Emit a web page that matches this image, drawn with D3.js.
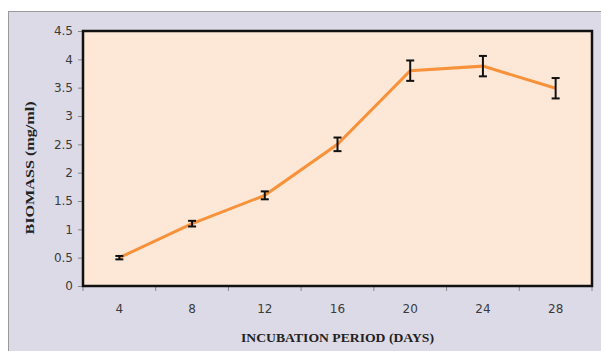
<!DOCTYPE html>
<html>
<head>
<meta charset="utf-8">
<script src="https://cdn.jsdelivr.net/npm/d3@7"></script>
<style>
  body { margin: 0; background: #fff; }
  svg { display: block; }
</style>
</head>
<body>
<div id="chart"></div>
<script>
const days = ["4", "8", "12", "16", "20", "24", "28"];
const biomass = [0.5, 1.1, 1.6, 2.5, 3.8, 3.88, 3.49];
const errors = [0.03, 0.05, 0.07, 0.12, 0.18, 0.18, 0.18];
const yTicks = [0, 0.5, 1, 1.5, 2, 2.5, 3, 3.5, 4, 4.5];

const width = 601, height = 351;
const margin = { top: 31, right: 9, bottom: 65, left: 83 };
const innerW = width - margin.left - margin.right;
const innerH = height - margin.top - margin.bottom;

const svg = d3.select("#chart").append("svg")
  .attr("width", width)
  .attr("height", height);

// outer chart area
svg.append("rect")
  .attr("x", 8.5).attr("y", 11.5)
  .attr("width", width).attr("height", height)
  .attr("fill", "#dddae7")
  .attr("stroke", "#9a9a9a");

const g = svg.append("g")
  .attr("transform", `translate(${margin.left},${margin.top})`);

const x = d3.scaleBand().domain(days).range([0, innerW]).padding(0);
const y = d3.scaleLinear().domain([0, 4.5]).range([innerH, 0]);

g.append("rect")
  .attr("width", innerW).attr("height", innerH)
  .attr("fill", "#fde7d6");

const tickFont = a => a.selectAll("text")
  .attr("fill", "#3a3a3a")
  .style("font-family", "'DejaVu Sans', Verdana, sans-serif")
  .style("font-size", "12px");

// y axis
g.append("g")
  .call(d3.axisLeft(y).tickValues(yTicks).tickSize(5).tickPadding(5).tickFormat(d3.format("")))
  .call(a => a.select(".domain").remove())
  .call(a => a.selectAll(".tick line").attr("stroke", "#888"))
  .call(tickFont);

// x axis: labels centred in bands, ticks at band edges
g.append("g")
  .attr("transform", `translate(0,${innerH})`)
  .call(d3.axisBottom(x).tickSize(0).tickPadding(18))
  .call(a => a.select(".domain").remove())
  .call(tickFont);

const edges = days.map(d => x(d)).concat([innerW]);
g.append("g").selectAll("line")
  .data(edges)
  .join("line")
  .attr("x1", d => d).attr("x2", d => d)
  .attr("y1", innerH).attr("y2", innerH + 5)
  .attr("stroke", "#888");

// plot frame
g.append("rect")
  .attr("width", innerW).attr("height", innerH)
  .attr("fill", "none")
  .attr("stroke", "#111")
  .attr("stroke-width", 2.5);

const pts = days.map((d, i) => ({ day: d, v: biomass[i], e: errors[i] }));
const cx = d => x(d.day) + x.bandwidth() / 2;

g.append("path")
  .datum(pts)
  .attr("fill", "none")
  .attr("stroke", "#f7923a")
  .attr("stroke-width", 3)
  .attr("d", d3.line().x(cx).y(d => y(d.v)));

const eb = g.append("g").attr("stroke", "#111").attr("stroke-width", 2);
eb.selectAll("line.v").data(pts).join("line").attr("class", "v")
  .attr("x1", cx).attr("x2", cx)
  .attr("y1", d => y(d.v + d.e)).attr("y2", d => y(d.v - d.e));
eb.selectAll("line.t").data(pts).join("line").attr("class", "t")
  .attr("x1", d => cx(d) - 4).attr("x2", d => cx(d) + 4)
  .attr("y1", d => y(d.v + d.e)).attr("y2", d => y(d.v + d.e));
eb.selectAll("line.b").data(pts).join("line").attr("class", "b")
  .attr("x1", d => cx(d) - 4).attr("x2", d => cx(d) + 4)
  .attr("y1", d => y(d.v - d.e)).attr("y2", d => y(d.v - d.e));

// axis titles
svg.append("text")
  .attr("x", margin.left + innerW / 2)
  .attr("y", 342)
  .attr("text-anchor", "middle")
  .style("font-family", "'Liberation Serif', 'Times New Roman', serif")
  .style("font-weight", "bold")
  .style("font-size", "13px")
  .attr("fill", "#222")
  .attr("textLength", 193)
  .attr("lengthAdjust", "spacingAndGlyphs")
  .text("INCUBATION PERIOD (DAYS)");

svg.append("text")
  .attr("transform", `translate(34,168) rotate(-90)`)
  .attr("text-anchor", "middle")
  .style("font-family", "'Liberation Serif', 'Times New Roman', serif")
  .style("font-weight", "bold")
  .style("font-size", "13px")
  .attr("fill", "#222")
  .attr("textLength", 133)
  .attr("lengthAdjust", "spacingAndGlyphs")
  .text("BIOMASS (mg/ml)");
</script>
</body>
</html>
